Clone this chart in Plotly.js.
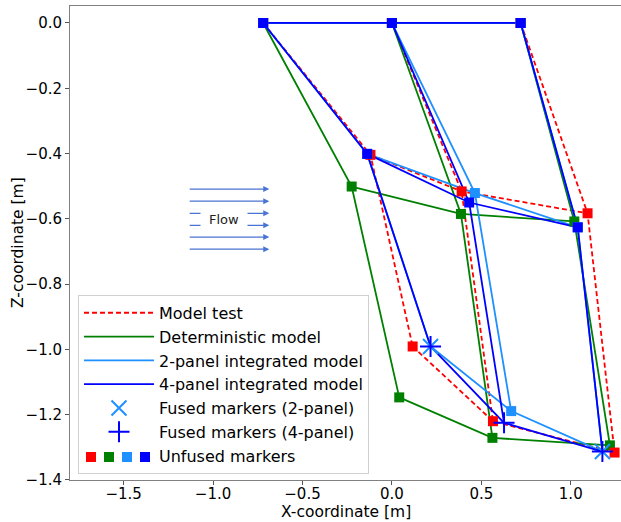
<!DOCTYPE html>
<html><head><meta charset="utf-8">
<script src="https://cdn.plot.ly/plotly-3.0.1.min.js"></script>
<style>html,body{margin:0;padding:0;background:#fff}#chart{width:621px;height:522px}</style>
</head><body><div id="chart"></div>
<script>
// Node order: top row (L, M, R), middle row (L, M, R), bottom row (L, M, R)
const testX = [-0.72, 0.00, 0.72, -0.12, 0.39, 1.094, 0.116, 0.565, 1.245];
const testZ = [0.00, 0.00, 0.00, -0.404, -0.516, -0.583, -0.991, -1.220, -1.316];
const detX  = [-0.72, 0.00, 0.72, -0.225, 0.386, 1.020, 0.041, 0.562, 1.219];
const detZ  = [0.00, 0.00, 0.00, -0.501, -0.585, -0.608, -1.147, -1.271, -1.294];
const p2X   = [-0.72, 0.00, 0.72, -0.138, 0.464, 1.039, 0.216, 0.667, 1.177];
const p2Z   = [0.00, 0.00, 0.00, -0.401, -0.521, -0.626, -0.991, -1.189, -1.313];
const p4X   = [-0.72, 0.00, 0.72, -0.138, 0.432, 1.039, 0.216, 0.627, 1.177];
const p4Z   = [0.00, 0.00, 0.00, -0.401, -0.550, -0.626, -0.991, -1.225, -1.313];
const fused2 = [6, 8];
const fused4 = [6, 7, 8];
const links = [[0,1,2],[3,4,5],[6,7,8],[0,3,6],[1,4,7],[2,5,8]];
const seriesNames = ['Model test','Deterministic model','2-panel integrated model','4-panel integrated model'];
const fusedNames = ['Fused markers (2-panel)','Fused markers (4-panel)'];
const unfusedName = 'Unfused markers';
const xTitle = 'X-coordinate [m]';
const zTitle = 'Z-coordinate [m]';
const flowLevels = [-0.509, -0.546, -0.583, -0.620, -0.656, -0.693];
const flowStart = -1.139, flowEnd = -0.686;
const flowLabel = {x: -0.938, z: -0.6015, text: 'Flow'};

const colors = ['red', 'green', '#1e90ff', 'blue'];
const models = [[testX,testZ],[detX,detZ],[p2X,p2Z],[p4X,p4Z]];
const fusedSets = [[], [], fused2, fused4];

function linePath(X, Z) {
  const x = [], y = [];
  links.forEach(l => { l.forEach(i => { x.push(X[i]); y.push(Z[i]); }); x.push(null); y.push(null); });
  return {x, y};
}
const FONT = 'DejaVu Sans, sans-serif';
const traces = [];
models.forEach((m, k) => {
  const p = linePath(m[0], m[1]);
  traces.push({x: p.x, y: p.y, mode: 'lines', name: seriesNames[k], legendrank: k + 1,
    line: {color: colors[k], width: 1.8, dash: k === 0 ? '5px,3px' : 'solid'}, hoverinfo: 'skip'});
});
[1, 0, 2, 3].forEach(k => {
  const [X, Z] = models[k];
  const idx = X.map((_, i) => i).filter(i => !fusedSets[k].includes(i));
  traces.push({x: idx.map(i => X[i]), y: idx.map(i => Z[i]), mode: 'markers', showlegend: false,
    marker: {symbol: 'square', size: 10, color: colors[k], line: {width: 0}}, hoverinfo: 'skip'});
});
traces.push({x: fused2.map(i => p2X[i]), y: fused2.map(i => p2Z[i]), mode: 'markers', name: fusedNames[0], legendrank: 5,
  marker: {symbol: 'x-thin-open', size: 15, color: '#1e90ff', line: {width: 2, color: '#1e90ff'}}});
traces.push({x: fused4.map(i => p4X[i]), y: fused4.map(i => p4Z[i]), mode: 'markers', name: fusedNames[1], legendrank: 6,
  marker: {symbol: 'cross-thin-open', size: 15, color: 'blue', line: {width: 2, color: 'blue'}}});
traces.push({x: [null], y: [null], mode: 'markers', name: unfusedName, legendrank: 7,
  marker: {symbol: 'square', size: 10, color: 'rgba(0,0,0,0)'}});

const annotations = flowLevels.map(z => ({x: flowEnd, y: z, ax: flowStart, ay: z, xref: 'x', yref: 'y', axref: 'x', ayref: 'y',
  text: '', showarrow: true, arrowhead: 2, arrowsize: 1, arrowwidth: 1.2, arrowcolor: '#4a74d4', standoff: 0}));
annotations.push({x: flowLabel.x, y: flowLabel.z, xref: 'x', yref: 'y', text: flowLabel.text, showarrow: false,
  bgcolor: 'white', width: 46, height: 20, borderpad: 0, font: {family: FONT, size: 13, color: '#222'}});
// axis titles
annotations.push({x: 0.5, y: 0, xref: 'paper', yref: 'paper', yshift: -32, xanchor: 'center', yanchor: 'middle',
  text: xTitle, showarrow: false, borderpad: 0, font: {family: FONT, size: 15.5, color: '#000'}});
annotations.push({x: 0, y: 0.5, xref: 'paper', yref: 'paper', xshift: -52, xanchor: 'center', yanchor: 'middle',
  textangle: -90, text: zTitle, showarrow: false, borderpad: 0, font: {family: FONT, size: 15.5, color: '#000'}});

// legend square swatches for "Unfused markers"
const L = 70, W = 551, T = 6, H = 474;
const swatchPx = [91, 109, 127, 145];
const shapes = swatchPx.map((px, k) => ({type: 'rect', xref: 'paper', yref: 'paper', xsizemode: 'pixel', ysizemode: 'pixel',
  xanchor: (px - L) / W, yanchor: (T + H - 457) / H, x0: -5, x1: 5, y0: -5, y1: 5,
  fillcolor: colors[k], line: {width: 0}, layer: 'above'}));

const axisCommon = {showgrid: false, zeroline: false, showline: true, linecolor: '#808080', linewidth: 1,
  ticks: 'outside', ticklen: 4, tickwidth: 1, tickcolor: '#555', tickformat: '.1f',
  tickfont: {family: FONT, size: 15, color: '#000'}};
const layout = {
  width: 621, height: 522, margin: {l: 70, r: 0, t: 6, b: 42},
  paper_bgcolor: 'white', plot_bgcolor: 'white', font: {family: FONT, size: 16, color: '#000'},
  xaxis: Object.assign({}, axisCommon, {range: [-1.80, 1.281], tick0: 0, dtick: 0.5, mirror: true, ticklabelstandoff: -4}),
  yaxis: Object.assign({}, axisCommon, {range: [-1.4001, 0.052], tick0: 0, dtick: 0.2}),
  legend: {x: 0.0145, y: 0.013, xanchor: 'left', yanchor: 'bottom', bgcolor: 'rgba(0,0,0,0)',
    bordercolor: '#d0d0d0', borderwidth: 1, itemwidth: 70, font: {family: FONT, size: 16, color: '#000'}},
  annotations, shapes, showlegend: true
};
Plotly.newPlot('chart', traces, layout, {displayModeBar: false, staticPlot: true});
</script></body></html>
